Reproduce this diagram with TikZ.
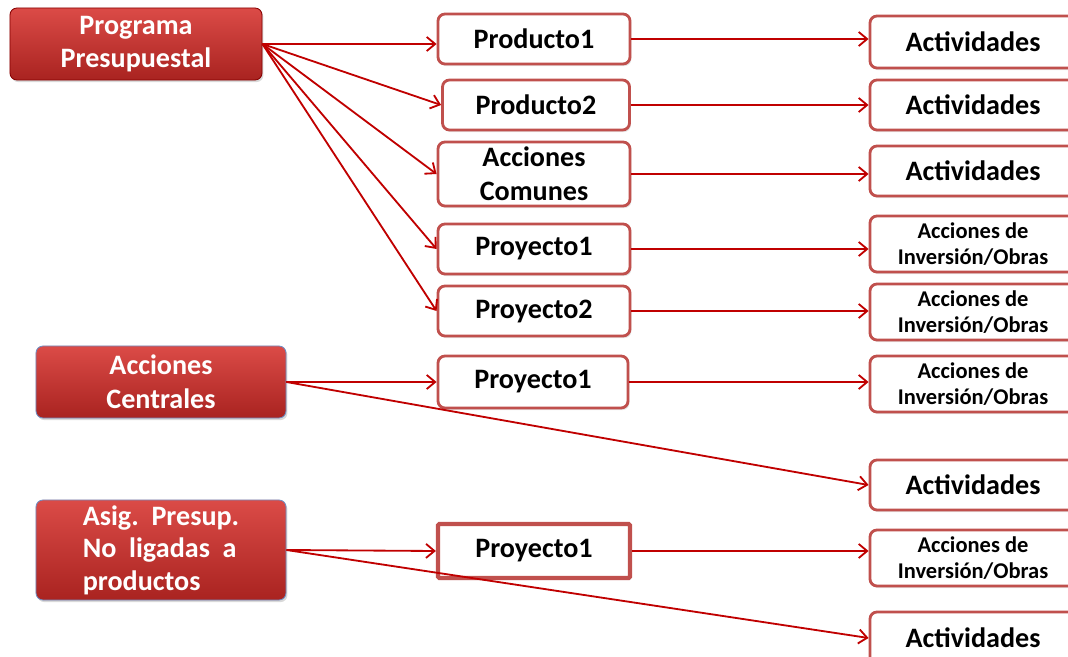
\documentclass[tikz,border=0pt]{standalone}
\usepackage{fontspec}
\setmainfont{Carlito}
\usetikzlibrary{arrows.meta,shadows}
\definecolor{Border}{HTML}{C0504D}
\definecolor{RedTop}{HTML}{DB4B47}
\definecolor{RedBottom}{HTML}{A92320}
\definecolor{Wire}{HTML}{C00000}
\definecolor{Frame}{HTML}{6F8FC4}

\begin{document}
\begin{tikzpicture}[
      x=0.025cm,y=-0.025cm,
      head/.style={rounded corners=5pt,inner sep=0pt,align=center,
        top color=RedTop,bottom color=RedBottom,text=white,
        font=\bfseries\fontsize{20}{24}\selectfont,
        drop shadow={shadow xshift=1pt,shadow yshift=-1.5pt,opacity=0.3}},
      box/.style={draw=Border,line width=2pt,rounded corners=5pt,fill=white,
        inner sep=0pt,align=center,minimum width=4.8cm,minimum height=1.25cm,
        font=\bfseries\fontsize{20}{24}\selectfont,
        drop shadow={shadow xshift=1pt,shadow yshift=-1.5pt,opacity=0.2}},
      outbox/.style={box,minimum width=5.15cm,minimum height=1.3cm},
      obra/.style={outbox,minimum height=1.4cm,
        font=\bfseries\fontsize{16}{19}\selectfont},
      arrow/.style={-{Straight Barb[length=6pt,width=10pt]},line width=1.3pt,color=Wire}
    ]
      \clip (0,0) rectangle (1068,657);
      % left column
      \node[head,draw=Wire!70!black,line width=0.6pt,minimum width=6.3cm,minimum height=1.8cm]
        (pp) at (136,44) {Programa\\Presupuestal};
      \node[head,draw=Frame,line width=0.6pt,minimum width=6.25cm,minimum height=1.8cm]
        (ac) at (161,382) {Acciones\\Centrales};
      \node[head,draw=Frame,line width=0.6pt,minimum width=6.25cm,minimum height=2.5cm,
        align=left,font=\bfseries\fontsize{20}{23}\selectfont]
        (ap) at (161,550) {Asig.~~Presup.\\No\ \ ligadas\ \ a\\productos};
      % middle column
      \node[box] (p1) at (534,39) {Producto1};
      \node[box,minimum width=4.675cm] (p2) at (536,105) {Producto2};
      \node[box,minimum height=1.6cm] (cc) at (534,174) {Acciones\\Comunes};
      \node[box] (y1) at (534,249) {Proyecto1};
      \node[box] (y2) at (534,311) {Proyecto2};
      \node[box,minimum width=4.75cm,minimum height=1.3cm] (y3) at (533,382) {Proyecto1};
      \node[box,rounded corners=1pt,line width=3pt,minimum height=1.35cm] (y4) at (534,551) {Proyecto1};
      % right column
      \node[outbox] (a1) at (973,42) {Actividades};
      \node[outbox,minimum height=1.25cm] (a2) at (973,105) {Actividades};
      \node[outbox,minimum height=1.25cm] (a3) at (973,171) {Actividades};
      \node[obra] (o1) at (973,244) {Acciones de\\Inversión/Obras};
      \node[obra] (o2) at (973,312) {Acciones de\\Inversión/Obras};
      \node[obra] (o3) at (973,384) {Acciones de\\Inversión/Obras};
      \node[outbox,minimum height=1.25cm] (a4) at (973,485) {Actividades};
      \node[obra] (o4) at (973,558) {Acciones de\\Inversión/Obras};
      \node[outbox] (a5) at (973,638) {Actividades};
      % links
      \draw[arrow] (pp.east) -- (pp.east -| p1.west);
      \draw[arrow] (pp.east) -- (p2.west);
      \draw[arrow] (pp.east) -- (cc.west);
      \draw[arrow] (pp.east) -- (y1.west);
      \draw[arrow] (pp.east) -- (y2.west);
      \draw[arrow] (ac.east) -- (y3.west);
      \draw[arrow] (ac.east) -- (a4.west);
      \draw[arrow] (ap.east) -- (y4.west);
      \draw[arrow] (ap.east) -- (a5.west);
      \draw[arrow] (p1.east) -- (p1.east -| a1.west);
      \draw[arrow] (p2.east) -- (a2.west);
      \draw[arrow] (cc.east) -- (cc.east -| a3.west);
      \draw[arrow] (y1.east) -- (y1.east -| o1.west);
      \draw[arrow] (y2.east) -- (y2.east -| o2.west);
      \draw[arrow] (y3.east) -- (y3.east -| o3.west);
      \draw[arrow] (y4.east) -- (y4.east -| o4.west);
    \end{tikzpicture}
\end{document}
